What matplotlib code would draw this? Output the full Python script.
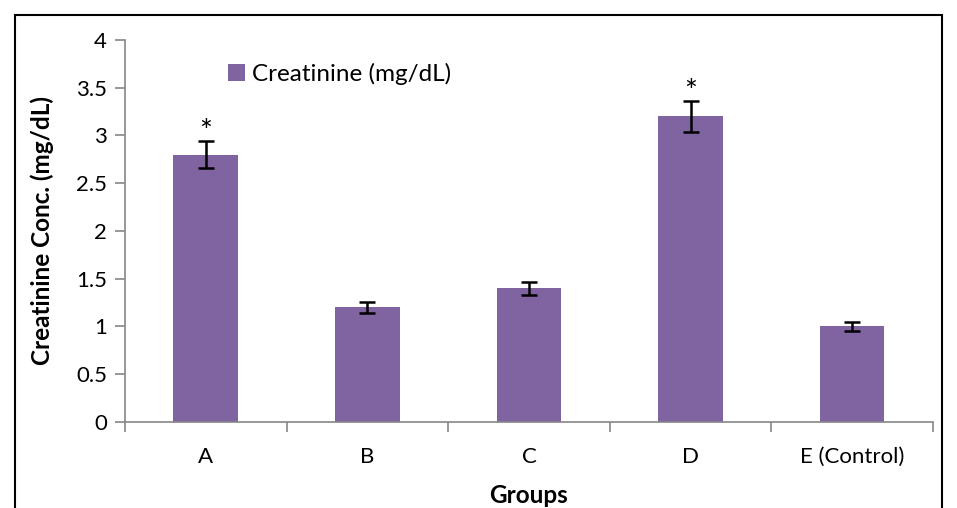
import matplotlib
matplotlib.use('Agg')
import matplotlib.pyplot as plt
from matplotlib.patches import Rectangle
import numpy as np

plt.rcParams['font.family'] = ['Lato', 'DejaVu Sans']

groups = ['A', 'B', 'C', 'D', 'E (Control)']
creatinine = [2.8, 1.2, 1.4, 3.2, 1.0]
errors = [0.14, 0.06, 0.07, 0.16, 0.05]
stars = ['*', '', '', '*', '']

bar_color = '#8064A2'
axis_color = '#868686'

fig = plt.figure(figsize=(9.57, 5.08), dpi=100)
ax = fig.add_axes([0.1306, 0.1693, 0.9749 - 0.1306, 0.9213 - 0.1693])

x = np.arange(len(groups))
ax.bar(x, creatinine, width=0.4, color=bar_color, label='Creatinine (mg/dL)', zorder=2)
ax.errorbar(x, creatinine, yerr=errors, fmt='none', ecolor='black',
            elinewidth=1.8, capsize=6, capthick=1.8, zorder=3)
for i in range(len(groups)):
    if stars[i]:
        ax.text(x[i], creatinine[i] + errors[i] + 0.10, stars[i], ha='center',
                va='center', fontsize=22, color='black')

ax.set_xlim(-0.5, len(groups) - 0.5)
ax.set_ylim(0, 4)
ax.set_yticks(np.arange(0, 4.01, 0.5))
ax.set_yticklabels(['0', '0.5', '1', '1.5', '2', '2.5', '3', '3.5', '4'])
ax.set_xticks(x)
ax.set_xticklabels(groups)
ax.set_xticks(np.arange(-0.5, len(groups), 1), minor=True)
ax.tick_params(axis='x', which='major', length=0, labelsize=16, pad=18)
ax.tick_params(axis='x', which='minor', length=7, color=axis_color, width=1.2)
ax.tick_params(axis='y', length=7, color=axis_color, width=1.2, labelsize=16, pad=6)

for s in ['top', 'right']:
    ax.spines[s].set_visible(False)
for s in ['left', 'bottom']:
    ax.spines[s].set_color(axis_color)
    ax.spines[s].set_linewidth(1.2)

ax.set_ylabel('Creatinine Conc. (mg/dL)', fontsize=17.5, fontweight='bold', labelpad=16)
ax.set_xlabel('Groups', fontsize=17.5, fontweight='bold', labelpad=12)

ax.legend(loc='upper left', bbox_to_anchor=(0.115, 0.966), frameon=False, fontsize=17.5,
          handlelength=0.7, handleheight=0.7, handletextpad=0.3, borderaxespad=0)

# outer chart border
fig.patches.append(Rectangle((15 / 957, -0.05), (942 - 15) / 957, (508 - 15) / 508 + 0.05,
                             transform=fig.transFigure, fill=False,
                             edgecolor='black', linewidth=1.5))

fig.savefig('out.png', dpi=100)
